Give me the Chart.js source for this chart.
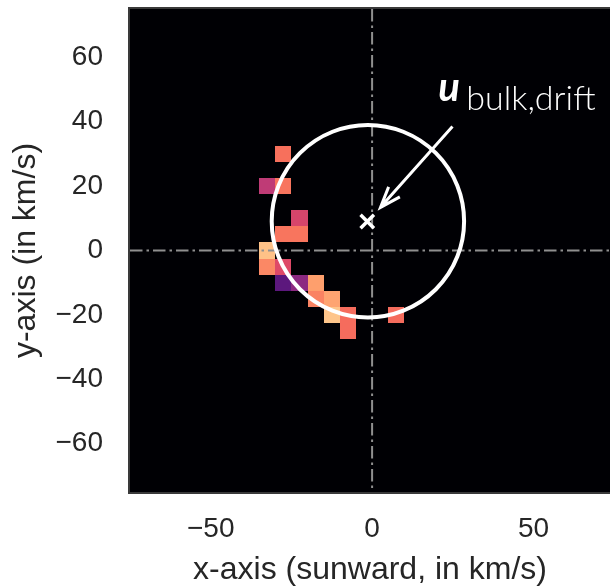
<!DOCTYPE html>
<html>
<head>
<meta charset="utf-8">
<script src="https://cdn.jsdelivr.net/npm/chart.js@4/dist/chart.umd.min.js"></script>
<style>
  html, body { margin: 0; padding: 0; background: #fff; overflow: hidden; }
  #wrap { width: 610px; height: 587px; position: relative; }
</style>
</head>
<body>
<div id="wrap"><canvas id="velChart"></canvas></div>
<script>
// histogram cells (bin centres, km/s) and their colour level on the magma map
const binSize = 5;
const cellX = [-27.5, -32.5, -27.5, -22.5, -27.5, -22.5, -32.5, -32.5, -27.5, -27.5, -22.5, -17.5, -17.5, -12.5, -12.5, -7.5, -7.5, 7.5];
const cellY = [30, 20, 20, 10, 5, 5, 0, -5, -5, -10, -10, -10, -15, -15, -20, -20, -25, -20];
const cellLevel = [0.70, 0.52, 0.71, 0.58, 0.71, 0.71, 0.87, 0.75, 0.60, 0.28, 0.40, 0.80, 0.74, 0.81, 0.88, 0.69, 0.69, 0.69];

// bulk drift velocity and the circle around it
const driftX = [-1.5];
const driftY = [9];
const circleCenter = [-1.3, 9.1];
const circleRadius = 29.8;

const xTicks = [-50, 0, 50];
const yTicks = [-60, -40, -20, 0, 20, 40, 60];

const magmaStops = ["#000004", "#140e36", "#3b0f70", "#641a80", "#8c2981", "#b73779",
                    "#de4968", "#f7705c", "#fe9f6d", "#fecf92", "#fcfdbf"];

function hex2rgb(h) {
  return [parseInt(h.slice(1, 3), 16), parseInt(h.slice(3, 5), 16), parseInt(h.slice(5, 7), 16)];
}
function magma(t) {
  const p = Math.min(Math.max(t, 0), 1) * 10;
  const i = Math.min(Math.floor(p), 9);
  const f = p - i;
  const a = hex2rgb(magmaStops[i]), b = hex2rgb(magmaStops[i + 1]);
  const c = a.map((v, k) => Math.round(v + (b[k] - v) * f));
  return `rgb(${c[0]},${c[1]},${c[2]})`;
}

const minus = (v) => (v < 0 ? "\u2212" + Math.abs(v) : String(v));

function noPad(s) {
  s.paddingTop = 0;
  s.paddingBottom = 0;
  s.paddingLeft = 0;
  s.paddingRight = 0;
}

const overlay = {
  id: "overlay",
  beforeDatasetsDraw(chart) {
    const { ctx, chartArea: a, scales: { x, y } } = chart;
    ctx.save();
    ctx.fillStyle = magma(0);
    ctx.fillRect(a.left, a.top, a.width, a.height);

    cellX.forEach((cx, i) => {
      const x0 = Math.round(x.getPixelForValue(cx - binSize / 2));
      const x1 = Math.round(x.getPixelForValue(cx + binSize / 2));
      const y0 = Math.round(y.getPixelForValue(cellY[i] + binSize / 2));
      const y1 = Math.round(y.getPixelForValue(cellY[i] - binSize / 2));
      ctx.fillStyle = magma(cellLevel[i]);
      ctx.fillRect(x0, y0, x1 - x0, y1 - y0);
    });

    // dash-dot zero lines
    ctx.beginPath();
    ctx.rect(a.left, a.top, a.width, a.height);
    ctx.clip();
    ctx.strokeStyle = "#8f8f8f";
    ctx.lineWidth = 2;
    ctx.setLineDash([12.5, 4, 2.5, 4]);
    const x0 = x.getPixelForValue(0), y0 = y.getPixelForValue(0);
    ctx.beginPath();
    ctx.moveTo(a.left, y0);
    ctx.lineTo(a.right, y0);
    ctx.moveTo(x0, a.top);
    ctx.lineTo(x0, a.bottom);
    ctx.stroke();
    ctx.setLineDash([]);

    // circle
    const cx = x.getPixelForValue(circleCenter[0]);
    const cy = y.getPixelForValue(circleCenter[1]);
    const r = x.getPixelForValue(circleCenter[0] + circleRadius) - cx;
    ctx.strokeStyle = "#ffffff";
    ctx.lineWidth = 4;
    ctx.beginPath();
    ctx.arc(cx, cy, r, 0, Math.PI * 2);
    ctx.stroke();
    ctx.restore();
  },
  afterDatasetsDraw(chart) {
    const { ctx, chartArea: a, scales: { x, y } } = chart;
    ctx.save();
    // arrow pointing at the drift velocity
    const tx = x.getPixelForValue(24.9), ty = y.getPixelForValue(38.5);
    const hx = x.getPixelForValue(2.6), hy = y.getPixelForValue(13.4);
    const ang = Math.atan2(ty - hy, tx - hx);
    ctx.strokeStyle = "#ffffff";
    ctx.lineWidth = 3;
    ctx.beginPath();
    ctx.moveTo(tx, ty);
    ctx.lineTo(hx, hy);
    const hl = 22, spread = 20 * Math.PI / 180;
    ctx.moveTo(hx + hl * Math.cos(ang - spread), hy + hl * Math.sin(ang - spread));
    ctx.lineTo(hx, hy);
    ctx.lineTo(hx + hl * Math.cos(ang + spread), hy + hl * Math.sin(ang + spread));
    ctx.stroke();

    // label
    ctx.fillStyle = "#ffffff";
    ctx.textBaseline = "alphabetic";
    ctx.textAlign = "left";
    const lx = x.getPixelForValue(20.5);
    ctx.font = "italic bold 40px Lato";
    ctx.fillText("u", lx, y.getPixelForValue(46.3));
    ctx.font = "300 34px Lato";
    ctx.fillText("bulk,drift", lx + 28, y.getPixelForValue(43.6));

    // frame
    ctx.strokeStyle = "#3a3a3a";
    ctx.lineWidth = 2;
    ctx.beginPath();
    ctx.moveTo(a.right + 2, a.top - 1);
    ctx.lineTo(a.left - 1, a.top - 1);
    ctx.lineTo(a.left - 1, a.bottom + 1);
    ctx.lineTo(a.right + 2, a.bottom + 1);
    ctx.stroke();
    ctx.restore();
  }
};

const axisFont = "'Liberation Sans', Arial, sans-serif";

new Chart(document.getElementById("velChart"), {
  type: "scatter",
  data: {
    datasets: [
      {
        data: driftX.map((v, i) => ({ x: v, y: driftY[i] })),
        pointStyle: "crossRot",
        pointRadius: 9.5,
        pointHoverRadius: 9.5,
        borderColor: "#ffffff",
        borderWidth: 3.5,
        pointBorderWidth: 3.5,
      },
    ],
  },
  options: {
    responsive: true,
    maintainAspectRatio: false,
    animation: false,
    events: [],
    layout: { autoPadding: false, padding: { top: 9, left: 0, right: 0, bottom: 0 } },
    plugins: { legend: { display: false }, tooltip: { enabled: false } },
    scales: {
      x: {
        type: "linear",
        min: -75,
        max: 73.7,
        afterBuildTicks: (s) => { s.ticks = xTicks.map((v) => ({ value: v })); },
        afterFit: (s) => { s.height = 95; noPad(s); },
        grid: { display: false, drawTicks: false },
        border: { display: false },
        ticks: {
          padding: 20,
          color: "#262626",
          font: { family: axisFont, size: 28 },
          callback: (v) => minus(v),
          maxRotation: 0,
        },
        title: {
          display: true,
          text: "x-axis (sunward, in km/s)",
          color: "#262626",
          font: { family: axisFont, size: 32 },
          padding: { top: 0, bottom: -2 },
        },
      },
      y: {
        type: "linear",
        min: -75,
        max: 75,
        afterBuildTicks: (s) => { s.ticks = yTicks.map((v) => ({ value: v })); },
        afterFit: (s) => { s.width = 130; noPad(s); },
        grid: { display: false, drawTicks: false },
        border: { display: false },
        ticks: {
          padding: 27,
          color: "#262626",
          font: { family: axisFont, size: 28 },
          callback: (v) => minus(v),
        },
        title: {
          display: true,
          text: "y-axis (in km/s)",
          color: "#262626",
          font: { family: axisFont, size: 32 },
          padding: { top: 7, bottom: 0 },
        },
      },
    },
  },
  plugins: [overlay],
});
</script>
</body>
</html>
